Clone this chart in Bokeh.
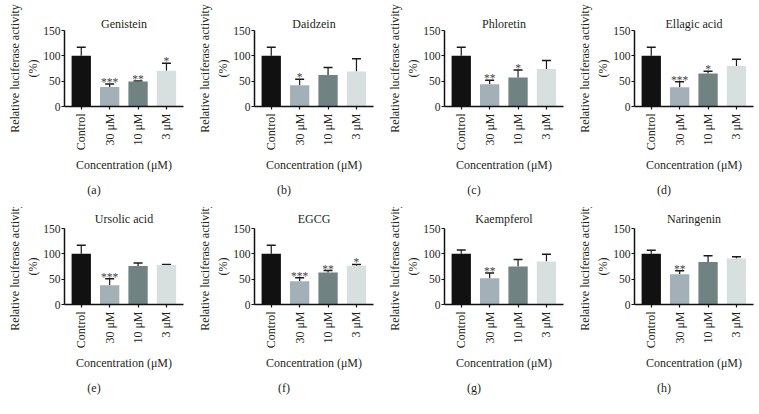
import math
from bokeh.plotting import figure
from bokeh.layouts import gridplot
from bokeh.models import ColumnDataSource, Range1d, FixedTicker, Title, Whisker, TeeHead
from bokeh.core.properties import value
from bokeh.embed import file_html
from bokeh.resources import INLINE

categories = ["Control", "30 μM", "10 μM", "3 μM"]
bar_colors = ["#111111", "#a3b0b7", "#718283", "#d7dfdf"]
y_ticks = [0, 50, 100, 150]
x_title = "Concentration (μM)"
y_title = "Relative luciferase activity\n(%)"

names = ["Genistein", "Daidzein", "Phloretin", "Ellagic acid",
         "Ursolic acid", "EGCG", "Kaempferol", "Naringenin"]
letters = ["(a)", "(b)", "(c)", "(d)", "(e)", "(f)", "(g)", "(h)"]

genistein = [100, 38.5, 49.5, 70.5]
genistein_err = [17, 6, 1, 15]
genistein_sig = ["", "***", "**", "*"]

daidzein = [100, 42, 62, 69]
daidzein_err = [17, 12, 15, 25]
daidzein_sig = ["", "*", "", ""]

phloretin = [100, 44, 57, 74]
phloretin_err = [17, 8, 15, 17]
phloretin_sig = ["", "**", "*", ""]

ellagic = [100, 38, 65, 80]
ellagic_err = [17, 11, 4.5, 13.5]
ellagic_sig = ["", "***", "*", ""]

ursolic = [100, 38, 76, 78]
ursolic_err = [17, 13, 6, 1]
ursolic_sig = ["", "***", "", ""]

egcg = [100, 46, 63, 76.5]
egcg_err = [17, 7, 4, 2.5]
egcg_sig = ["", "***", "**", "*"]

kaempferol = [100, 52, 75, 85]
kaempferol_err = [7.5, 10, 14, 14]
kaempferol_sig = ["", "**", "", ""]

naringenin = [100, 59.5, 84, 91]
naringenin_err = [7, 7, 12, 3]
naringenin_sig = ["", "**", "", ""]

all_means = [genistein, daidzein, phloretin, ellagic, ursolic, egcg, kaempferol, naringenin]
all_errs = [genistein_err, daidzein_err, phloretin_err, ellagic_err,
            ursolic_err, egcg_err, kaempferol_err, naringenin_err]
all_sigs = [genistein_sig, daidzein_sig, phloretin_sig, ellagic_sig,
            ursolic_sig, egcg_sig, kaempferol_sig, naringenin_sig]

FONT = "Liberation Serif"
FONT_V = value(FONT)
TXT = "#231f20"
right_borders = [7, 7, 7, 6]
FRAME_W = 119
FRAME_H = 76
FIG_H = 207
PAD = "\u2007" * 10   # figure spaces: push the panel letter left of centre


def make_panel(i):
    row, col = divmod(i, 4)
    top = 30 if row == 0 else 21
    bottom = FIG_H - top - FRAME_H
    p = figure(frame_width=FRAME_W, frame_height=FRAME_H,
               x_range=Range1d(-0.59, 3.6), y_range=Range1d(0, 150),
               output_backend="svg", toolbar_location=None,
               min_border_left=64, min_border_right=right_borders[col],
               min_border_top=top, min_border_bottom=bottom, title=None)
    p.outline_line_color = None
    p.xgrid.visible = False
    p.ygrid.visible = False
    p.background_fill_color = "white"
    p.border_fill_color = "white"

    xs = list(range(len(categories)))
    means = all_means[i]
    errs = all_errs[i]
    src = ColumnDataSource(dict(
        x=xs, top=means, lower=means,
        upper=[m + e for m, e in zip(means, errs)],
        color=bar_colors, sig=all_sigs[i]))

    p.vbar(x="x", top="top", width=0.68, source=src, fill_color="color",
           line_color=None)
    p.add_layout(Whisker(base="x", lower="lower", upper="upper", source=src,
                         dimension="height", line_color="#1a1a1a", line_width=1.2,
                         upper_head=TeeHead(size=9, line_color="#1a1a1a", line_width=1.5),
                         lower_head=None))
    p.text(x="x", y="upper", text="sig", source=src, text_align="center",
           text_baseline="alphabetic", y_offset=-2, text_font=FONT_V,
           text_font_size="11.5px", text_color="#444444")

    ya = p.yaxis[0]
    ya.ticker = FixedTicker(ticks=y_ticks)
    ya.major_label_text_font = FONT
    ya.major_label_text_font_size = "11.5px"
    ya.major_label_text_color = TXT
    ya.major_tick_out = 3
    ya.major_tick_in = 0
    ya.minor_tick_out = 0
    ya.minor_tick_in = 0
    ya.axis_line_width = 1.5
    ya.axis_line_color = "#111111"
    ya.major_tick_line_color = "#111111"
    ya.major_tick_line_width = 1.2
    ya.major_label_standoff = 1
    ya.axis_label = y_title
    ya.axis_label_text_font = FONT
    ya.axis_label_text_font_size = "12px"
    ya.axis_label_text_font_style = "normal"
    ya.axis_label_text_color = TXT
    ya.axis_label_text_line_height = 1.3
    ya.axis_label_standoff = 0

    xa = p.xaxis[0]
    xa.ticker = FixedTicker(ticks=xs)
    xa.major_label_overrides = {x: c for x, c in zip(xs, categories)}
    xa.major_label_orientation = math.pi / 2
    xa.major_label_text_font = FONT
    xa.major_label_text_font_size = "12px"
    xa.major_label_text_color = TXT
    xa.major_tick_out = 3
    xa.major_tick_in = 0
    xa.minor_tick_out = 0
    xa.minor_tick_in = 0
    xa.axis_line_width = 1.5
    xa.axis_line_color = "#111111"
    xa.major_tick_line_color = "#111111"
    xa.major_tick_line_width = 1.2
    xa.major_label_standoff = 4
    xa.axis_label = x_title + "\n\n" + letters[i] + PAD
    xa.axis_label_text_font = FONT
    xa.axis_label_text_font_size = "12px"
    xa.axis_label_text_font_style = "normal"
    xa.axis_label_text_color = TXT
    xa.axis_label_text_line_height = 0.9
    xa.axis_label_standoff = 5

    p.add_layout(Title(text=names[i], align="center", text_font=FONT,
                       text_font_size="12px", text_font_style="normal",
                       text_color=TXT, standoff=0 if row == 0 else 5), "above")
    return p


panels = [make_panel(i) for i in range(8)]
grid = gridplot([panels[:4], panels[4:]], toolbar_location=None)

open("out.html", "w").write(file_html(grid, INLINE))
